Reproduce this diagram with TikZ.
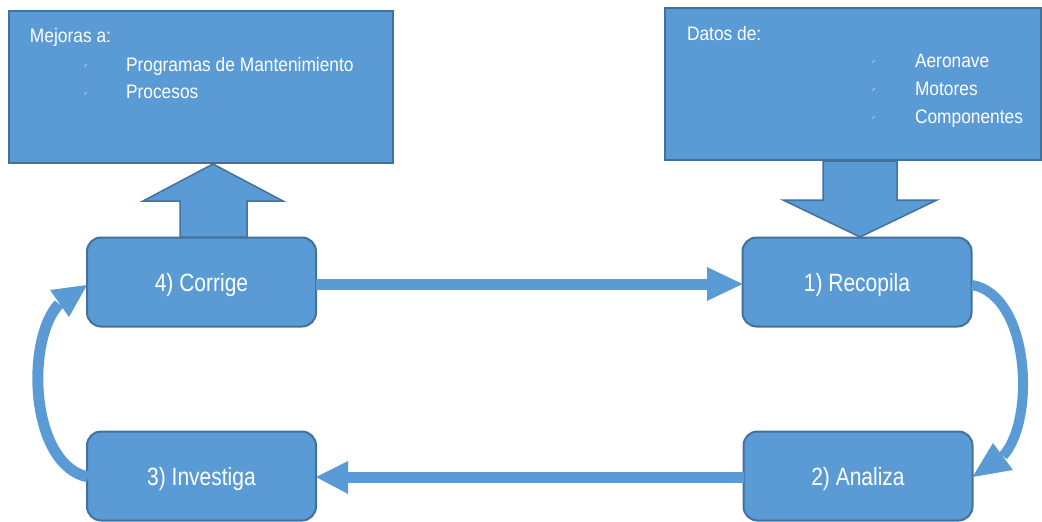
\documentclass[tikz,border=0pt]{standalone}
\usepackage{fontspec}
\setmainfont{Liberation Sans}
\newfontfamily\narrowfont[FakeStretch=0.84]{Liberation Sans}
\newfontfamily\paneltextfont[FakeStretch=0.89]{Liberation Sans}
\newfontfamily\symfont{DejaVu Sans}
\begin{document}
\begin{tikzpicture}[x=1pt,y=-1pt,
  every node/.style={inner sep=0pt,outer sep=0pt},
  panel/.style={draw=edgeblue,fill=fillblue,line width=2pt,anchor=north west},
  stage/.style={draw=edgeblue,fill=fillblue,line width=2pt,rounded corners=14pt,
    minimum width=229pt,minimum height=89pt,text=white,
    text height=18pt,text depth=0pt,
    font=\narrowfont\fontsize{25}{30}\selectfont},
  blockarrow/.style={draw=edgeblue,fill=fillblue,line width=1.5pt,line join=miter},
  shaft/.style={draw=fillblue,line width=11pt},
  head/.style={fill=fillblue},
  paneltext/.style={text=white,anchor=base west,font=\paneltextfont\fontsize{19.5}{23}\selectfont},
  tick/.style={text=white,font=\symfont\fontsize{5}{6}\selectfont}]
\definecolor{fillblue}{HTML}{5B9BD5}
\definecolor{edgeblue}{HTML}{41719C}
\useasboundingbox (0,0) rectangle (1042,522);

% information panels
\node[panel,minimum width=384pt,minimum height=152pt] (mejoras) at (9,11) {};
\node[panel,minimum width=376pt,minimum height=152pt] (datos) at (665,8) {};

\node[paneltext] (mtitle) at (30,42) {Mejoras a:};
\node[tick] (mt1) at (86,66) {✓};
\node[paneltext] (m1) at (126,71) {Programas de Mantenimiento};
\node[tick] (mt2) at (86,94) {✓};
\node[paneltext] (m2) at (126,98) {Procesos};

\node[paneltext] (dtitle) at (687,40) {Datos de:};
\node[tick] (dt1) at (874,62) {✓};
\node[paneltext] (d1) at (915,67) {Aeronave};
\node[tick] (dt2) at (874,90) {✓};
\node[paneltext] (d2) at (915,95) {Motores};
\node[tick] (dt3) at (874,118) {✓};
\node[paneltext] (d3) at (915,123) {Componentes};

% cycle stages
\node[stage] (corrige) at (201.5,282) {4) Corrige};
\node[stage] (recopila) at (857,282) {1) Recopila};
\node[stage] (investiga) at (201.5,476) {3) Investiga};
\node[stage] (analiza) at (858,476) {2) Analiza};

% block arrows between panels and stages
\draw[blockarrow] (180,237) -- (180,201) -- (143,201) -- (213,164) -- (283,201)
  -- (247,201) -- (247,237) -- cycle;
\draw[blockarrow] (823,161) -- (823,200) -- (783,200) -- (860,237) -- (937,200)
  -- (897,200) -- (897,161) -- cycle;

% straight connectors
\coordinate (h1) at (707,284);
\draw[shaft] (corrige.east |- h1) -- (h1);
\fill[head] (707,267) -- (recopila.west |- h1) -- (707,301) -- cycle;

\coordinate (h2) at (348,477);
\draw[shaft] (analiza.west |- h2) -- (h2);
\fill[head] (348,461) -- (investiga.east |- h2) -- (348,494) -- cycle;

% curved connectors
\coordinate (r0) at (972,285);
\coordinate (r1) at (1003,456);
\draw[shaft,line width=10pt] (r0) .. controls (1030,295) and (1036,420) .. (r1);
\fill[head] (993,443) -- (analiza.east |- 0,477) -- (1013,470) -- cycle;

\coordinate (l0) at (88,477);
\coordinate (l1) at (59,304);
\draw[shaft] (l0) .. controls (30,465) and (25,340) .. (l1);
\fill[head] (50,290) -- (corrige.west |- 0,285) -- (69,317) -- cycle;
\end{tikzpicture}
\end{document}
